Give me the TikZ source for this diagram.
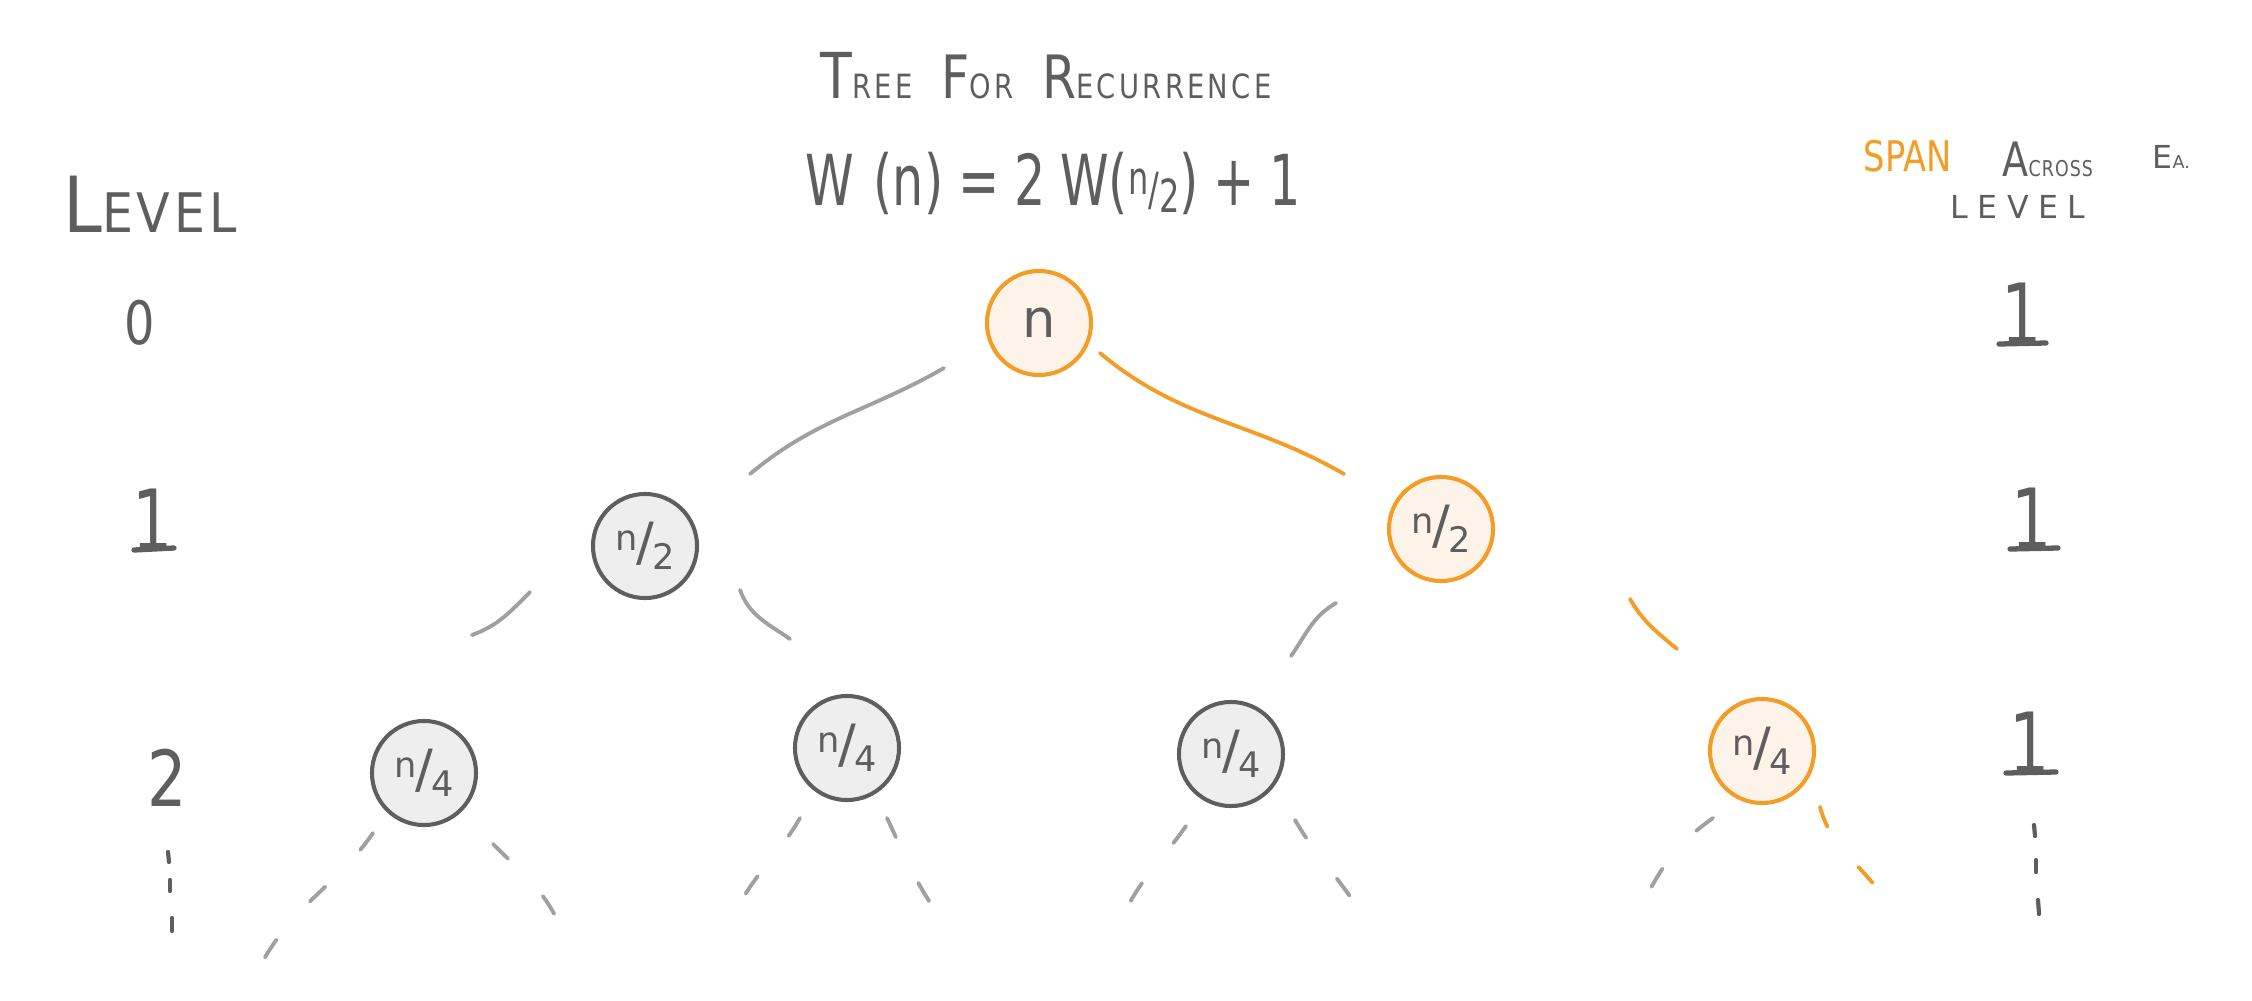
\documentclass[tikz,border=0pt]{standalone}
\usepackage{fontspec}
\usepackage{graphicx}
\setmainfont{DejaVu Sans}
\usetikzlibrary{calc}
\definecolor{ink}{HTML}{5E5E5E}
\definecolor{org}{HTML}{F39C26}
\definecolor{orgfill}{HTML}{FEF3E8}
\definecolor{grfill}{HTML}{EEEEEE}
\definecolor{edgegray}{HTML}{A0A0A0}
\newcommand{\fsz}[1]{\fontsize{#1}{#1}\selectfont}
\newcommand{\sq}[2]{\scalebox{#1}[1]{#2}}
\newcommand{\frc}[2]{{\fsz{10}\raisebox{3pt}{#1}}\kern-0.5pt{\fsz{15}/}\kern-0.5pt{\fsz{10}\raisebox{-2.5pt}{#2}}}
\begin{document}
\begin{tikzpicture}[x=0.01cm,y=-0.01cm,
  every node/.style={text=ink,inner sep=0pt},
  treenode/.style={circle,line width=1.15pt,minimum size=1.04cm,inner sep=0pt},
  gnode/.style={treenode,draw=ink,fill=grfill},
  onode/.style={treenode,draw=org,fill=orgfill},
  link/.style={line width=1.1pt,line cap=round,draw=edgegray},
  olink/.style={link,draw=org},
  dlink/.style={link,dash pattern=on 6pt off 14.5pt},
  odlink/.style={olink,dash pattern=on 6pt off 14.5pt},
  tick/.style={line width=1.2pt,line cap=round,draw=ink},
  onebase/.style={line width=1.5pt,line cap=round,draw=ink},
]
\useasboundingbox (0,0) rectangle (2252,1000);

% headings
\node[anchor=base] (title) at (1046,98) {\sq{0.82}{\addfontfeatures{LetterSpace=12}{\fsz{18}T}{\fsz{9.5}REE}\hspace{10pt}{\fsz{17}F}{\fsz{9.5}OR}\hspace{10pt}{\fsz{17}R}{\fsz{9.5}ECURRENCE}}};
\node[anchor=base] (eq) at (1053,205) {\sq{0.7}{\fsz{20}W\hspace{8pt}(n)\hspace{6pt}=\hspace{6pt}2\hspace{6pt}W({\fsz{13}\raisebox{3pt}{n}/\raisebox{-2pt}{2}})\hspace{6pt}+\hspace{6pt}1}};
\node[anchor=base] (levL) at (150,232) {\sq{0.9}{\addfontfeatures{LetterSpace=8}{\fsz{22}L}{\fsz{15.5}EVEL}}};
\node[anchor=base west,text=org] (span) at (1863,171) {\sq{0.8}{\fsz{12}SPAN}};
\node[anchor=base west] (across) at (2002,176) {\sq{0.8}{{\fsz{13.5}A}{\fsz{6.2}\addfontfeatures{LetterSpace=6}CROSS}}};
\node[anchor=base west] (ea) at (2152,168) {{\fsz{9}E}{\fsz{5}A.}};
\node[anchor=base] (lvlR) at (2018,218) {\fsz{9}\addfontfeatures{LetterSpace=30}LEVEL};

% level numbers
\node[anchor=base] (lv0) at (140,344) {\sq{0.8}{\fsz{17}0}};
\node[anchor=base] (lv1) at (153,550) {\sq{0.75}{\fsz{24}1}};
\draw[onebase] ($(lv1.base)+(-19,0)$) -- ($(lv1.base)+(21,-2)$);
\node[anchor=base] (lv2) at (167,806) {\sq{0.8}{\fsz{22}2}};
\draw[tick] (168,852) -- (169,862);
\draw[tick] (170,880) -- (170,891);
\draw[tick] (172,918) -- (172,931);

% span numbers
\node[anchor=base] (sp0) at (2022,344) {\sq{0.75}{\fsz{24}1}};
\draw[onebase] ($(sp0.base)+(-23,0)$) -- ($(sp0.base)+(24,-1)$);
\node[anchor=base] (sp1) at (2032,549) {\sq{0.75}{\fsz{24}1}};
\draw[onebase] ($(sp1.base)+(-22,0)$) -- ($(sp1.base)+(26,-1)$);
\node[anchor=base] (sp2) at (2030,773) {\sq{0.75}{\fsz{24}1}};
\draw[onebase] ($(sp2.base)+(-24,0)$) -- ($(sp2.base)+(26,-1)$);
\draw[tick] (2034,825) -- (2035,836);
\draw[tick] (2036,860) -- (2036,872);
\draw[tick] (2038,900) -- (2039,914);

% tree nodes
\node[onode] (root) at (1039,323) {\fsz{15}n};
\node[gnode] (l) at (645,546) {\frc{n}{2}};
\node[onode] (r) at (1441,529) {\frc{n}{2}};
\node[gnode] (ll) at (424,773) {\frc{n}{4}};
\node[gnode] (lr) at (847,748) {\frc{n}{4}};
\node[gnode] (rl) at (1231,754) {\frc{n}{4}};
\node[onode] (rr) at (1762,751) {\frc{n}{4}};

% connector ends (gaps near the circles)
\coordinate (e1a) at ($(root)+(-95,45)$);  \coordinate (e1b) at ($(l)+(105,-72)$);
\coordinate (e2a) at ($(root)+(61,30)$);   \coordinate (e2b) at ($(r)+(-97,-55)$);
\coordinate (e3a) at ($(l)+(-115,46)$);    \coordinate (e3b) at ($(ll)+(48,-138)$);
\coordinate (e4a) at ($(l)+(95,44)$);      \coordinate (e4b) at ($(lr)+(-57,-109)$);
\coordinate (e5a) at ($(r)+(-105,74)$);    \coordinate (e5b) at ($(rl)+(60,-98)$);
\coordinate (e6a) at ($(r)+(189,70)$);     \coordinate (e6b) at ($(rr)+(-85,-102)$);

\draw[link]  (e1a) to[out=210,in=40]  (e1b);
\draw[olink] (e2a) to[out=320,in=150] (e2b);
\draw[link]  (e3a) to[out=225,in=20]  (e3b);
\draw[link]  (e4a) to[out=290,in=145] (e4b);
\draw[link]  (e5a) to[out=210,in=55]  (e5b);
\draw[olink] (e6a) to[out=300,in=140] (e6b);

% dashed continuations
\coordinate (d1a) at ($(ll)+(-51,60)$);  \coordinate (d1b) at (264,959);
\coordinate (d2a) at ($(ll)+(69,71)$);   \coordinate (d2b) at (564,936);
\coordinate (d3a) at ($(lr)+(-47,70)$);  \coordinate (d3b) at (730,926);
\coordinate (d4a) at ($(lr)+(40,70)$);   \coordinate (d4b) at (941,919);
\coordinate (d5a) at ($(rl)+(-45,72)$);  \coordinate (d5b) at (1123,916);
\coordinate (d6a) at ($(rl)+(64,66)$);   \coordinate (d6b) at (1371,933);
\coordinate (d7a) at ($(rr)+(-49,67)$);  \coordinate (d7b) at (1637,916);
\coordinate (d8a) at ($(rr)+(58,56)$);   \coordinate (d8b) at (1888,905);

\draw[dlink]  (d1a) to[out=235,in=60]  (d1b);
\draw[dlink]  (d2a) to[out=315,in=110] (d2b);
\draw[dlink]  (d3a) to[out=240,in=70]  (d3b);
\draw[dlink]  (d4a) to[out=295,in=125] (d4b);
\draw[dlink]  (d5a) to[out=235,in=65]  (d5b);
\draw[dlink]  (d6a) to[out=300,in=115] (d6b);
\draw[dlink]  (d7a) to[out=215,in=65]  (d7b);
\draw[odlink] (d8a) to[out=285,in=120] (d8b);
\end{tikzpicture}
\end{document}
